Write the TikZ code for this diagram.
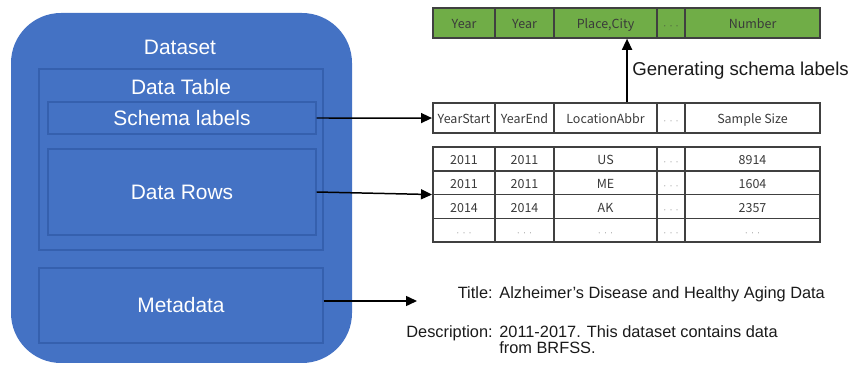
\documentclass[tikz,border=0pt]{standalone}
\usepackage{fontspec}
\setmainfont{Liberation Sans}
\newfontfamily\cellfont{Noto Sans CJK SC}
\usetikzlibrary{arrows.meta, matrix}
\definecolor{dsblue}{HTML}{4472C4}
\definecolor{dsedge}{HTML}{3560AE}
\definecolor{lblgreen}{HTML}{70AD47}
\definecolor{gridline}{HTML}{404040}
\definecolor{celltext}{HTML}{3A3A3A}
\definecolor{dotgray}{HTML}{8C8C8C}
\definecolor{inktext}{HTML}{1A1A1A}
\newcommand{\celldots}[1][dotgray]{{\color{#1}\fontsize{5}{6}\selectfont$\cdots$}}
\tikzset{
  dataset/.style={fill=dsblue, draw=none, rounded corners=1cm},
  part/.style={draw=dsedge, line width=0.6pt},
  partlbl/.style={text=white, font=\fontsize{11.9}{14}\selectfont, inner sep=0pt},
  celltab/.style={matrix of nodes, inner sep=0pt, column sep=-0.8pt, row sep=-0.8pt,
    nodes in empty cells,
    nodes={draw=gridline, line width=0.8pt, text=celltext, inner sep=0pt,
      font=\cellfont\fontsize{7.1}{9}\selectfont,
      text height=1.6ex, text depth=0.35ex, minimum height=#1},
    column 1/.style={nodes={minimum width=1.24cm}},
    column 2/.style={nodes={minimum width=1.18cm}},
    column 3/.style={nodes={minimum width=2.06cm}},
    column 4/.style={nodes={minimum width=0.56cm}},
    column 5/.style={nodes={minimum width=2.70cm}}},
  link/.style={-{Triangle[length=0.22cm, width=0.2cm]}, line width=0.85pt, draw=black},
  metatxt/.style={text=inktext, font=\fontsize{9.3}{11}\selectfont, inner sep=0pt}
}

\begin{document}
\begin{tikzpicture}
  \useasboundingbox (0,0) rectangle (17.08,-7.54);

  % ---- Dataset container ---------------------------------------------------
  \draw[dataset] (0.22,-0.26) rectangle (7.04,-7.26);
  \node[partlbl] (dslbl) at (3.60,-0.94) {Dataset};

  % ---- Data table with its two parts ---------------------------------------
  \draw[part] (0.78,-1.38) rectangle (6.46,-5.00);
  \node[partlbl] (tablbl) at (3.62,-1.74) {Data Table};
  \node[part, partlbl, minimum width=5.36cm, minimum height=0.64cm] (schema) at (3.64,-2.36) {Schema labels};
  \node[part, partlbl, minimum width=5.36cm, minimum height=1.72cm] (rows) at (3.64,-3.84) {Data Rows};

  % ---- Metadata ------------------------------------------------------------
  \node[part, partlbl, minimum width=5.68cm, minimum height=1.50cm] (meta) at (3.62,-6.11) {Metadata};

  % ---- Generated labels (green) and original header ------------------------
  \matrix (grn) [celltab=0.60cm, anchor=north west, nodes={fill=lblgreen}] at (8.64,-0.14) {
    Year & Year & Place,City & \celldots[gridline] & Number \\
  };
  \matrix (schtab) [celltab=0.60cm, anchor=north west] at (8.64,-2.04) {
    YearStart & YearEnd & LocationAbbr & \celldots & Sample Size \\
  };

  % ---- Data rows -----------------------------------------------------------
  \matrix (rowtab) [celltab=0.475cm, anchor=north west] at (8.64,-2.92) {
    2011 & 2011 & US & \celldots & 8914 \\
    2011 & 2011 & ME & \celldots & 1604 \\
    2014 & 2014 & AK & \celldots & 2357 \\
    \celldots & \celldots & \celldots & \celldots & \celldots \\
  };

  % ---- Connectors ----------------------------------------------------------
  \draw[link] (schema.east) -- (schtab.west);
  \draw[link] (rows.east) -- (rowtab.west);
  \coordinate (metatip) at (8.34,-6.02);
  \draw[link] (meta.east |- metatip) -- (metatip);
  \draw[link] ([xshift=0.43cm]schtab-1-3.north) -- ([xshift=0.43cm]grn-1-3.south);
  \node[text=inktext, font=\fontsize{10.6}{13}\selectfont, inner sep=0pt, anchor=west] (genlbl) at (12.64,-1.42) {Generating schema labels};

  % ---- Metadata text -------------------------------------------------------
  \node[metatxt, anchor=base east] (titlekey) at (9.86,-5.98) {Title:};
  \node[metatxt, anchor=base west] (titleval) at (9.98,-5.98) {Alzheimer’s Disease and Healthy Aging Data};
  \node[metatxt, anchor=base east] (desckey) at (9.86,-6.76) {Description:};
  \node[metatxt, anchor=base west] (descval) at (9.98,-6.76) {2011-2017. This dataset contains data};
  \node[metatxt, anchor=base west] (descmore) at (9.98,-7.08) {from BRFSS.};

\end{tikzpicture}
\end{document}
